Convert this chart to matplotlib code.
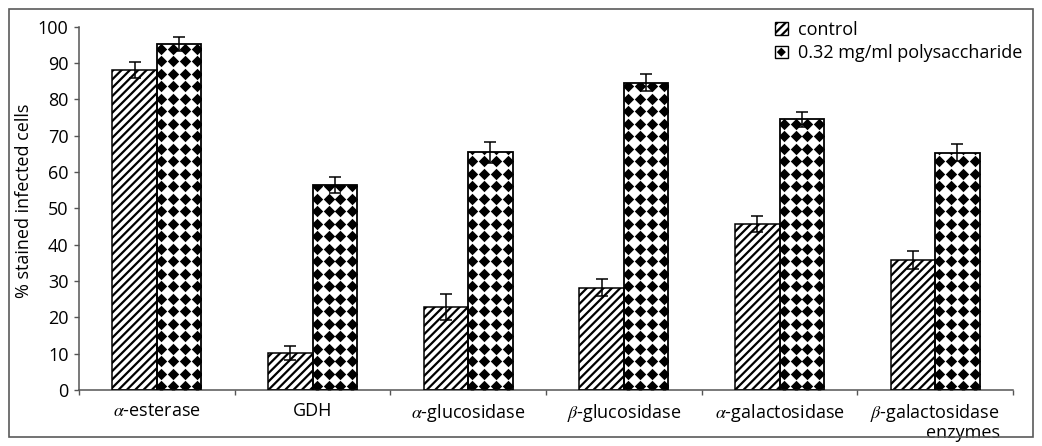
import matplotlib
matplotlib.use('Agg')
import matplotlib.pyplot as plt
import numpy as np
from matplotlib.patches import Rectangle, Patch, Polygon

# ---------------- data ----------------
categories = [r'$\alpha$-esterase', 'GDH', r'$\alpha$-glucosidase',
              r'$\beta$-glucosidase', r'$\alpha$-galactosidase',
              r'$\beta$-galactosidase' + '\nenzymes']
control = [88.0, 10.2, 22.9, 28.2, 45.8, 35.7]
control_err = [2.2, 1.9, 3.6, 2.3, 2.2, 2.5]
treated = [95.3, 56.4, 65.4, 84.6, 74.5, 65.3]
treated_err = [1.9, 2.2, 2.9, 2.4, 2.0, 2.3]
series_names = ['control', '0.32 mg/ml polysaccharide']
y_ticks = [0, 10, 20, 30, 40, 50, 60, 70, 80, 90, 100]
y_label = '% stained infected cells'

# ---------------- style ----------------
plt.rcParams['font.family'] = ['Open Sans', 'DejaVu Sans']
plt.rcParams['mathtext.fontset'] = 'stix'
plt.rcParams['hatch.linewidth'] = 1.6
plt.rcParams['hatch.color'] = 'black'
FS = 13

W, H = 1042, 446
fig = plt.figure(figsize=(W / 100, H / 100), dpi=100)
fig.patch.set_facecolor('white')

# outer frame
fig.patches.append(Rectangle((9 / W, 9 / H), (1033 - 9) / W, (437 - 9) / H,
                             transform=fig.transFigure, fill=False,
                             edgecolor='#5a5a5a', linewidth=1.2))

left, right, bottom, top = 79, 1013, 390, 26.7
ax = fig.add_axes([left / W, 1 - bottom / H, (right - left) / W, (bottom - top) / H])

n = len(categories)
x = np.arange(n)
px_per_cat = (right - left) / n
px_per_unit = (bottom - top) / 100
w = 44.5 / px_per_cat

# control bars with diagonal hatch
ax.bar(x - w / 2, control, w, facecolor='white', edgecolor='black',
       hatch='////', linewidth=0, zorder=2)
ax.bar(x - w / 2, control, w, fill=False, edgecolor='black', linewidth=1.1, zorder=3)

# treated bars with diamond pattern
tb = ax.bar(x + w / 2, treated, w, facecolor='white', edgecolor='none', zorder=2)
dx = 11.8 / px_per_cat
dy = 12.5 / px_per_unit
for rect in tb.patches:
    x0 = rect.get_x()
    hgt = rect.get_height()
    cols = x0 + 4.3 / px_per_cat + dx * np.arange(5)
    rows = 4.0 / px_per_unit + dy * np.arange(int(hgt / dy) + 2)
    gx, gy = np.meshgrid(cols, rows)
    sc = ax.scatter(gx.ravel(), gy.ravel(), marker='D', s=34, c='black',
                    linewidths=0, zorder=2.5)
    sc.set_clip_path(rect)
ax.bar(x + w / 2, treated, w, fill=False, edgecolor='black', linewidth=1.3, zorder=3)

# error bars
ax.errorbar(x - w / 2, control, yerr=control_err, fmt='none', ecolor='black',
            elinewidth=1.1, capsize=4.3, capthick=1.1, zorder=4)
ax.errorbar(x + w / 2, treated, yerr=treated_err, fmt='none', ecolor='black',
            elinewidth=1.1, capsize=4.3, capthick=1.1, zorder=4)

# axes
ax.set_xlim(-0.5, n - 0.5)
ax.set_ylim(0, 100)
ax.set_yticks(y_ticks)
ax.tick_params(axis='y', direction='out', length=3.5, width=1, color='#555555',
               labelsize=FS, pad=4)
ax.set_xticks(x)
ax.set_xticklabels(categories, multialignment='right', linespacing=0.95)
ax.tick_params(axis='x', which='major', length=0, labelsize=FS, pad=9)
ax.set_xticks(np.arange(n + 1) - 0.5, minor=True)
ax.tick_params(axis='x', which='minor', direction='out', length=3.5, width=1,
               color='#555555')
for s in ['top', 'right']:
    ax.spines[s].set_visible(False)
for s in ['left', 'bottom']:
    ax.spines[s].set_color('#555555')
    ax.spines[s].set_linewidth(1.1)
ax.set_ylabel(y_label, fontsize=FS)
ax.yaxis.set_label_coords(-0.049, 0.52)


# legend
class DiamondKey:
    pass


class DiamondHandler:
    def legend_artist(self, legend, orig_handle, fontsize, handlebox):
        x0, y0 = -handlebox.xdescent, -handlebox.ydescent
        hw, hh = handlebox.width, handlebox.height
        tr = handlebox.get_transform()
        box = Rectangle((x0, y0), hw, hh, facecolor='white', edgecolor='black',
                        linewidth=1, transform=tr)
        cx, cy = x0 + hw / 2, y0 + hh / 2
        r = 0.36
        dia = Polygon([[cx, cy + r * hh], [cx + r * hw, cy],
                       [cx, cy - r * hh], [cx - r * hw, cy]],
                      closed=True, facecolor='black', edgecolor='none',
                      transform=tr)
        handlebox.add_artist(box)
        handlebox.add_artist(dia)
        return box


h1 = Patch(facecolor='white', edgecolor='black', hatch='////', linewidth=1)
h2 = DiamondKey()
fig.legend([h1, h2], series_names, loc='upper left',
           bbox_to_anchor=(775 / W, 1 - 21 / H), frameon=False,
           fontsize=FS, handlelength=0.7, handleheight=0.7,
           handletextpad=0.6, labelspacing=0.3, borderpad=0, borderaxespad=0,
           handler_map={DiamondKey: DiamondHandler()})

fig.savefig('out.png', dpi=100, facecolor='white')
